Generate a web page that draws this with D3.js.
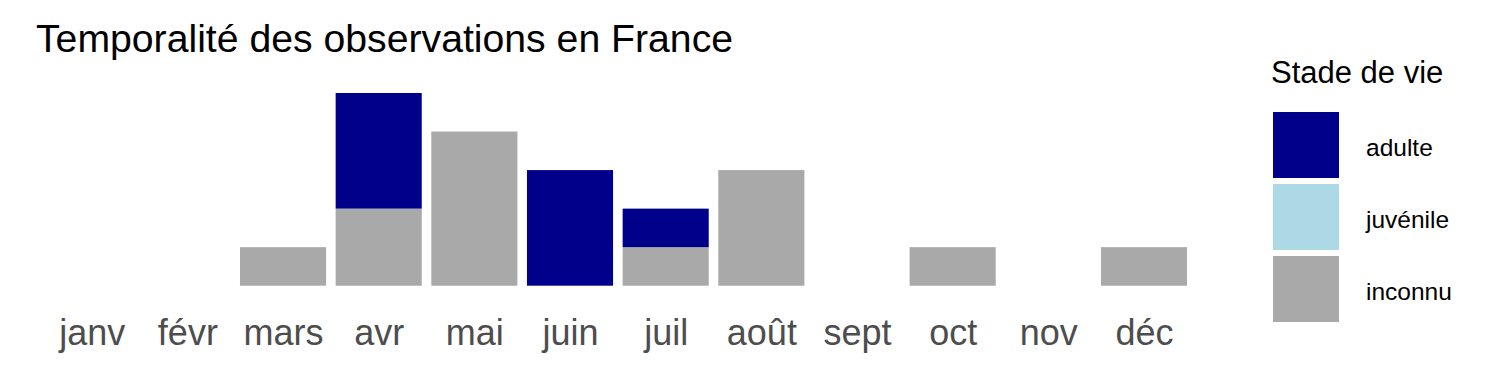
<!DOCTYPE html>
<html>
<head>
<meta charset="utf-8">
<script src="https://cdn.jsdelivr.net/npm/d3@7"></script>
<style>
  body { margin: 0; background: #fff; }
  svg { font-family: "Liberation Sans", Arial, sans-serif; }
</style>
</head>
<body>
<div id="chart"></div>
<script>
const months = ["janv", "févr", "mars", "avr", "mai", "juin", "juil", "août", "sept", "oct", "nov", "déc"];
const stages = ["adulte", "juvénile", "inconnu"];
const stageColors = ["#00008B", "#ADD8E6", "#A9A9A9"];

// observations per month and life stage
const adulte   = [0, 0, 0, 3, 0, 3, 1, 0, 0, 0, 0, 0];
const juvenile = [0, 0, 0, 0, 0, 0, 0, 0, 0, 0, 0, 0];
const inconnu  = [0, 0, 1, 2, 4, 0, 1, 3, 0, 1, 0, 1];

const rows = months.map((m, i) => ({
  month: m,
  adulte: adulte[i],
  "juvénile": juvenile[i],
  inconnu: inconnu[i]
}));

const width = 1500, height = 375;

const svg = d3.select("#chart").append("svg")
  .attr("width", width)
  .attr("height", height);

// x: discrete months, ggplot-like expand of 0.6 units
const x = d3.scalePoint()
  .domain(months)
  .range([34.3, 1201.4])
  .padding(0.6);
const barW = x.step() * 0.9;

const y = d3.scaleLinear()
  .domain([0, 5])
  .range([285.7, 93]);

const color = d3.scaleOrdinal().domain(stages).range(stageColors);

// stack with adulte on top, inconnu at the bottom
const stack = d3.stack().keys(stages.slice().reverse());
const series = stack(rows);

svg.append("g")
  .selectAll("g")
  .data(series)
  .join("g")
  .attr("fill", d => color(d.key))
  .selectAll("rect")
  .data(d => d.filter(v => v[1] - v[0] > 0))
  .join("rect")
  .attr("x", d => x(d.data.month) - barW / 2)
  .attr("y", d => y(d[1]))
  .attr("width", barW)
  .attr("height", d => y(d[0]) - y(d[1]));

// x axis labels only
const xAxis = d3.axisBottom(x).tickSize(0).tickPadding(0);
const xg = svg.append("g")
  .call(xAxis);
xg.select(".domain").remove();
xg.selectAll("text")
  .attr("y", 345)
  .attr("dy", null)
  .attr("fill", "#4D4D4D")
  .style("font-size", "36px")
  .style("font-family", "'Liberation Sans', Arial, sans-serif");

// title
svg.append("text")
  .attr("x", 36)
  .attr("y", 52)
  .attr("fill", "#000")
  .style("font-size", "39.2px")
  .text("Temporalité des observations en France");

// legend
const legend = svg.append("g");
legend.append("text")
  .attr("x", 1271)
  .attr("y", 83)
  .style("font-size", "31px")
  .text("Stade de vie");

const keyY = d3.scalePoint().domain(stages).range([112, 256]);
const item = legend.selectAll("g.item")
  .data(stages)
  .join("g")
  .attr("class", "item")
  .attr("transform", d => `translate(1273,${keyY(d)})`);
item.append("rect")
  .attr("width", 66)
  .attr("height", 66)
  .attr("fill", d => color(d));
item.append("text")
  .attr("x", 93)
  .attr("y", 44)
  .style("font-size", "24.5px")
  .text(d => d);
</script>
</body>
</html>
